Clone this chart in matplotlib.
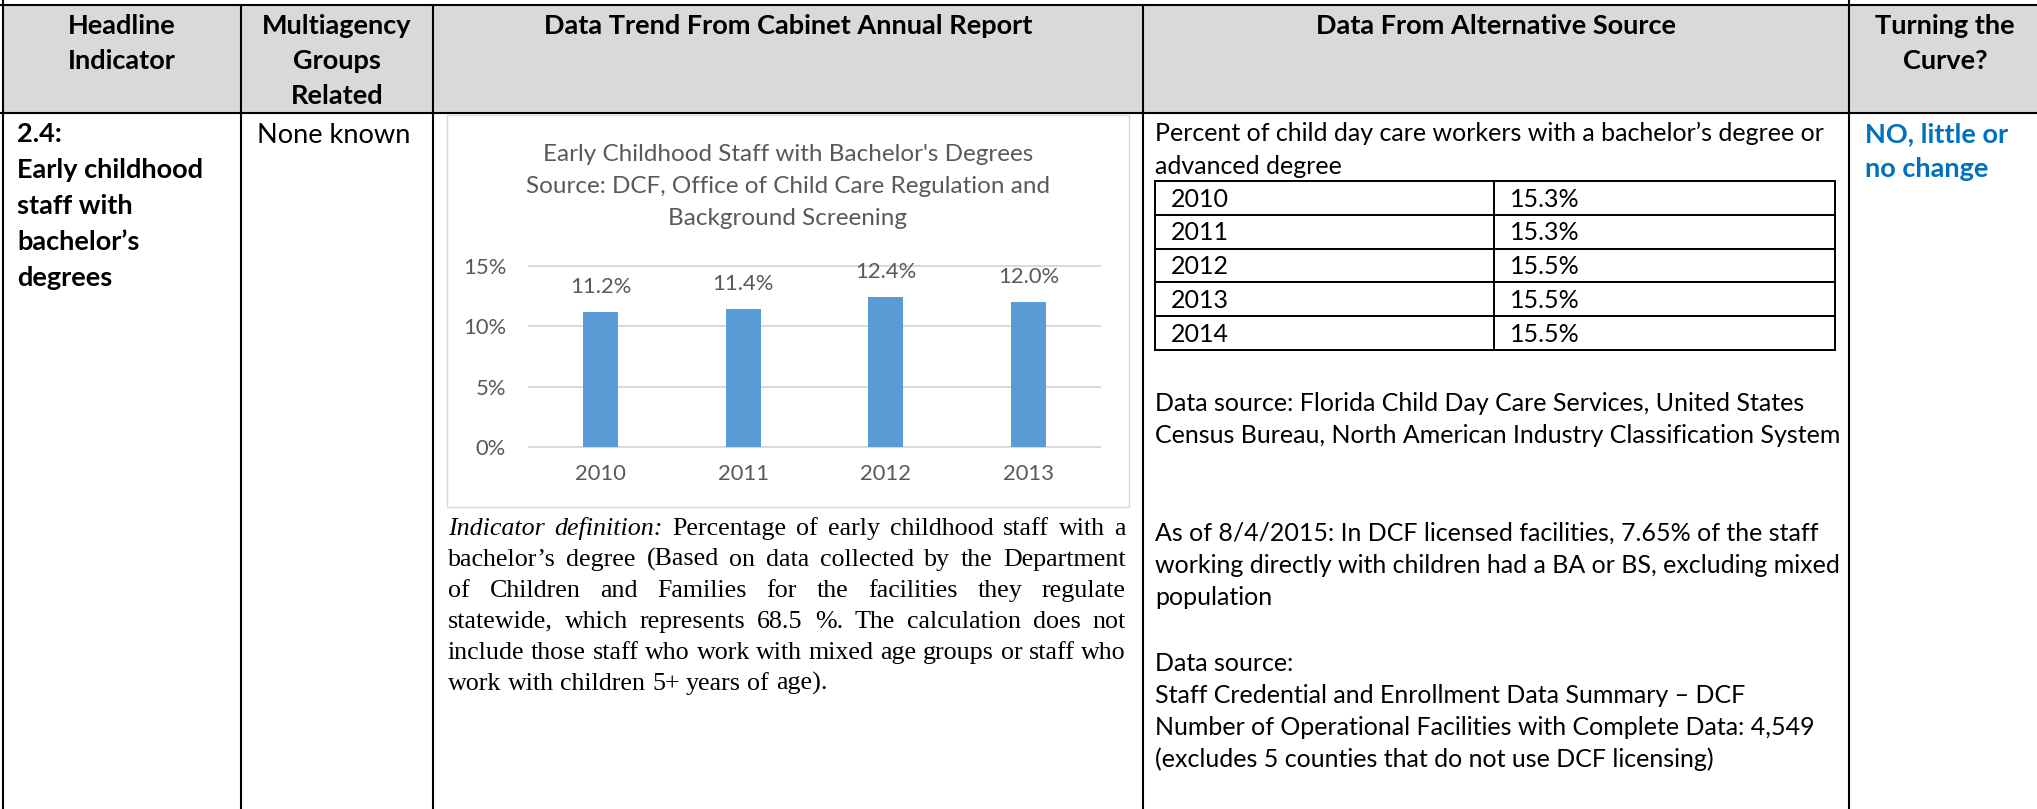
import matplotlib
matplotlib.use("Agg")
import matplotlib.pyplot as plt
from matplotlib.patches import Rectangle

# chart data (Cabinet annual report)
years = ["2010", "2011", "2012", "2013"]
staff_pct = [11.2, 11.4, 12.4, 12.0]
y_ticks = [0, 5, 10, 15]

# alternative source table
alt_years = ["2010", "2011", "2012", "2013", "2014"]
alt_pct = [15.3, 15.3, 15.5, 15.5, 15.5]

# texts
headers = [
    ["Headline", "Indicator"],
    ["Multiagency", "Groups", "Related"],
    ["Data Trend From Cabinet Annual Report"],
    ["Data From Alternative Source"],
    ["Turning the", "Curve?"],
]
indicator_lines = ["2.4:", "Early childhood", "staff with", "bachelor’s", "degrees"]
groups_text = "None known"
turning_lines = ["NO, little or", "no change"]
chart_title = ["Early Childhood Staff with Bachelor's Degrees",
               "Source: DCF, Office of Child Care Regulation and",
               "Background Screening"]
def_lead = "Indicator definition:"
def_lines = [
    "Percentage of early childhood staff with a",
    "bachelor’s degree (Based on data collected by the Department",
    "of Children and Families for the facilities they regulate",
    "statewide, which represents 68.5 %.  The calculation does not",
    "include those staff who work with mixed age groups or staff who",
    "work with children 5+ years of age).",
]
alt_intro = ["Percent of child day care workers with a bachelor’s degree or",
             "advanced degree"]
alt_src1 = ["Data source: Florida Child Day Care Services, United States",
            "Census Bureau, North American Industry Classification System"]
alt_note = ["As of 8/4/2015: In DCF licensed facilities, 7.65% of the staff",
            "working directly with children had a BA or BS, excluding mixed",
            "population"]
alt_src2 = ["Data source:",
            "Staff Credential and Enrollment Data Summary – DCF",
            "Number of Operational Facilities with Complete Data: 4,549",
            "(excludes 5 counties that do not use DCF licensing)"]

FONT = "Lato"
SERIF = "Liberation Serif"
GRAY_TXT = "#595959"
GRID = "#D9D9D9"
BAR = "#5B9BD5"
BLUE = "#0070C0"

W, H = 2037, 809
fig = plt.figure(figsize=(W / 100, H / 100), dpi=100)
page = fig.add_axes([0, 0, 1, 1])
page.set_xlim(0, W)
page.set_ylim(H, 0)
page.set_autoscale_on(False)
page.axis("off")
renderer = fig.canvas.get_renderer()


def text_w(s, size, **kw):
    t = page.text(0, 0, s, fontsize=size, **kw)
    w = t.get_window_extent(renderer).width
    t.remove()
    return w


def fit_size(s, width, **kw):
    return 20 * width / text_w(s, 20, **kw)


hdr_size = fit_size("Data Trend From Cabinet Annual Report", 488, family=FONT, weight="bold")
body_size = fit_size(alt_intro[0], 672, family=FONT)
big_size = body_size * 12 / 11
title_size = fit_size(chart_title[0], 490, family=FONT)
tick_size = fit_size("2010", 51, family=FONT)
serif_size = fit_size(def_lines[4], 676, family=SERIF)


def put(x, yc, s, size, ha="left", **kw):
    # yc = visual centre of the capitals, converted to a baseline
    base = yc + 0.35 * size * 100 / 72
    return page.text(x, base, s, fontsize=size, ha=ha, va="baseline", **kw)


def hline(x0, x1, y, lw=1.5, color="black"):
    page.plot([x0, x1], [y, y], color=color, lw=lw, solid_capstyle="butt")


def vline(x, y0, y1, lw=1.5, color="black"):
    page.plot([x, x], [y0, y1], color=color, lw=lw, solid_capstyle="butt")


# header band
col_x = [3, 241, 433, 1143, 1849, W + 4]
top, hdr_bot = 5, 113
page.add_patch(Rectangle((col_x[0], top), W - col_x[0], hdr_bot - top, fc="#D9D9D9", ec="none"))
hline(0, W, top)
hline(0, W, hdr_bot)
vline(col_x[0], 0, H)
vline(col_x[4], 0, H)
for x in col_x[1:4]:
    vline(x, top, H)

for i, lines in enumerate(headers):
    cx = (col_x[i] + col_x[i + 1]) / 2
    for k, s in enumerate(lines):
        put(cx, 25 + 35 * k, s, hdr_size, ha="center", family=FONT, weight="bold")

# first two columns
for k, s in enumerate(indicator_lines):
    put(17, 133 + 35.8 * k, s, hdr_size, family=FONT, weight="bold")
put(257, 133, groups_text, big_size, family=FONT)

# last column
for k, s in enumerate(turning_lines):
    put(1865, 133 + 35 * k, s, hdr_size, family=FONT, weight="bold", color=BLUE)

# chart frame and title
page.add_patch(Rectangle((447, 115), 682, 392, fc="white", ec=GRID, lw=1))
for k, s in enumerate(chart_title):
    put(788, 153 + 32 * k, s, title_size, ha="center", family=FONT, color=GRAY_TXT)

ax = fig.add_axes([529 / W, 1 - 447 / H, 571 / W, 181 / H])
ax.set_facecolor("none")
xpos = range(len(years))
ax.bar(xpos, staff_pct, width=0.245, color=BAR, zorder=3)
ax.set_xlim(-0.5, len(years) - 0.5)
ax.set_ylim(0, 15)
ax.set_yticks(y_ticks)
ax.set_yticklabels([f"{v}%" for v in y_ticks])
ax.set_xticks(list(xpos))
ax.set_xticklabels(years)
for lab in ax.get_xticklabels() + ax.get_yticklabels():
    lab.set_family(FONT)
    lab.set_fontsize(tick_size)
    lab.set_color(GRAY_TXT)
ax.tick_params(axis="y", length=0, pad=16.5)
ax.tick_params(axis="x", length=0, pad=12.5)
ax.yaxis.grid(True, color=GRID, lw=1.4, zorder=0)
for gl in ax.get_ygridlines():
    gl.set_clip_on(False)
for sp in ax.spines.values():
    sp.set_visible(False)
for i, v in enumerate(staff_pct):
    ax.annotate(f"{v:.1f}%", (i, v), xytext=(0, 18), textcoords="offset points",
                ha="center", va="center", fontsize=tick_size, family=FONT,
                color=GRAY_TXT, annotation_clip=False)

# justified indicator definition (serif)
space_w = text_w("a a", serif_size, family=SERIF) - text_w("aa", serif_size, family=SERIF)

left_x, right_x = 448, 1126
for k, s in enumerate(def_lines):
    tokens = [(w, "normal") for w in s.split()]
    if k == 0:
        tokens = [(w, "italic") for w in def_lead.split()] + tokens
    yc = 526 + 31 * k
    base = yc + 0.33 * serif_size * 100 / 72
    arts = []
    for word, style in tokens:
        t = page.text(0, base, word, family=SERIF, style=style, fontsize=serif_size, va="baseline")
        arts.append((t, t.get_window_extent(renderer).width))
    total = sum(w for _, w in arts)
    last = k == len(def_lines) - 1
    gap = space_w if last else (right_x - left_x - total) / (len(arts) - 1)
    x = left_x
    for t, w in arts:
        t.set_x(x)
        x += w + gap

# alternative source column
tx = 1155
for k, s in enumerate(alt_intro):
    put(tx, 132 + 33 * k, s, body_size, family=FONT)

tbl_top, row_h = 181, 33.8
tbl_l, tbl_m, tbl_r = 1155, 1494, 1835
n = len(alt_years)
for r in range(n + 1):
    hline(tbl_l - 1, tbl_r + 1, tbl_top + row_h * r, lw=1.4)
for x in (tbl_l, tbl_m, tbl_r):
    vline(x, tbl_top, tbl_top + row_h * n, lw=1.4)
for r, (yr, v) in enumerate(zip(alt_years, alt_pct)):
    yc = tbl_top + row_h * (r + 0.5)
    put(1171, yc, yr, body_size, family=FONT)
    put(1510, yc, f"{v:.1f}%", body_size, family=FONT)

for block, y0 in ((alt_src1, 402), (alt_note, 532), (alt_src2, 662)):
    for k, s in enumerate(block):
        put(tx, y0 + 32 * k, s, body_size, family=FONT)

fig.savefig("out.png", dpi=100)
